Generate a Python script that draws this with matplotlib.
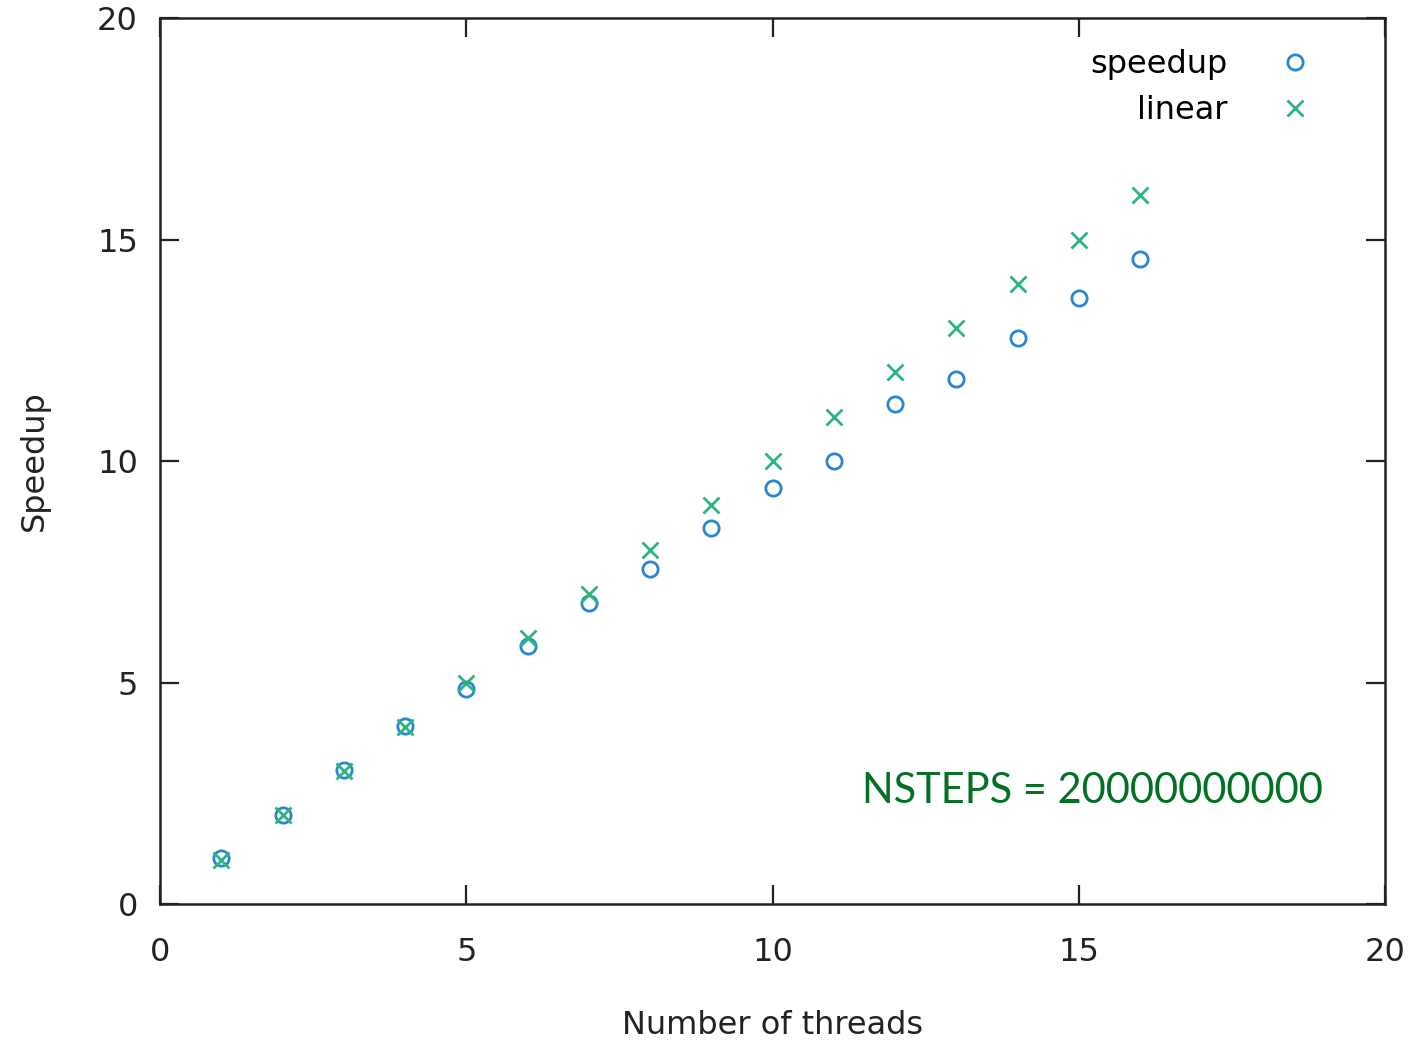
import numpy as np
import matplotlib.pyplot as plt

# thread counts and measured speedup
threads = [1, 2, 3, 4, 5, 6, 7, 8, 9, 10, 11, 12, 13, 14, 15, 16]
speedup = [1.03, 2.01, 3.02, 4.03, 4.85, 5.82, 6.79, 7.56, 8.49, 9.39,
           10.0, 11.29, 11.85, 12.78, 13.68, 14.56]
linear = [1, 2, 3, 4, 5, 6, 7, 8, 9, 10, 11, 12, 13, 14, 15, 16]

plt.rcParams['font.family'] = ['DejaVu Sans']

fig = plt.figure(figsize=(14.14, 10.42), dpi=100)
ax = fig.add_axes([0.1132, 0.1324, 0.8663, 0.8503])

ax.plot(threads, speedup, linestyle='none', marker='o', markersize=11,
        markerfacecolor='none', markeredgecolor='#2a86d0', markeredgewidth=2,
        label='speedup')
ax.plot(threads, linear, linestyle='none', marker='x', markersize=11,
        markeredgecolor='#2cb57c', markeredgewidth=2, label='linear')

ax.set_xlim(0, 20)
ax.set_ylim(0, 20)
ax.set_xticks([0, 5, 10, 15, 20])
ax.set_yticks([0, 5, 10, 15, 20])

for s in ax.spines.values():
    s.set_linewidth(1.8)
    s.set_color('#222222')

ax.tick_params(direction='in', length=14, width=1.6, color='#222222',
               top=True, right=True, labelsize=23, labelcolor='#222222')
ax.tick_params(axis='x', pad=24)
ax.tick_params(axis='y', pad=16)

ax.set_xlabel('Number of threads', fontsize=23, color='#222222', labelpad=30)
ax.set_ylabel('Speedup', fontsize=23, color='#222222', labelpad=34)

leg = ax.legend(loc='upper right', bbox_to_anchor=(0.950, 0.979),
                frameon=False, fontsize=23, markerfirst=False,
                handlelength=1.0, handletextpad=1.6, labelspacing=0.45,
                borderaxespad=0)
for t in leg.get_texts():
    t.set_ha('right')
leg._legend_box.align = 'right'

ax.text(0.949, 0.128, 'NSTEPS = 20000000000', transform=ax.transAxes,
        fontsize=30, color='#037125', family='Lato', ha='right', va='center')

fig.savefig('out.png', dpi=100)
